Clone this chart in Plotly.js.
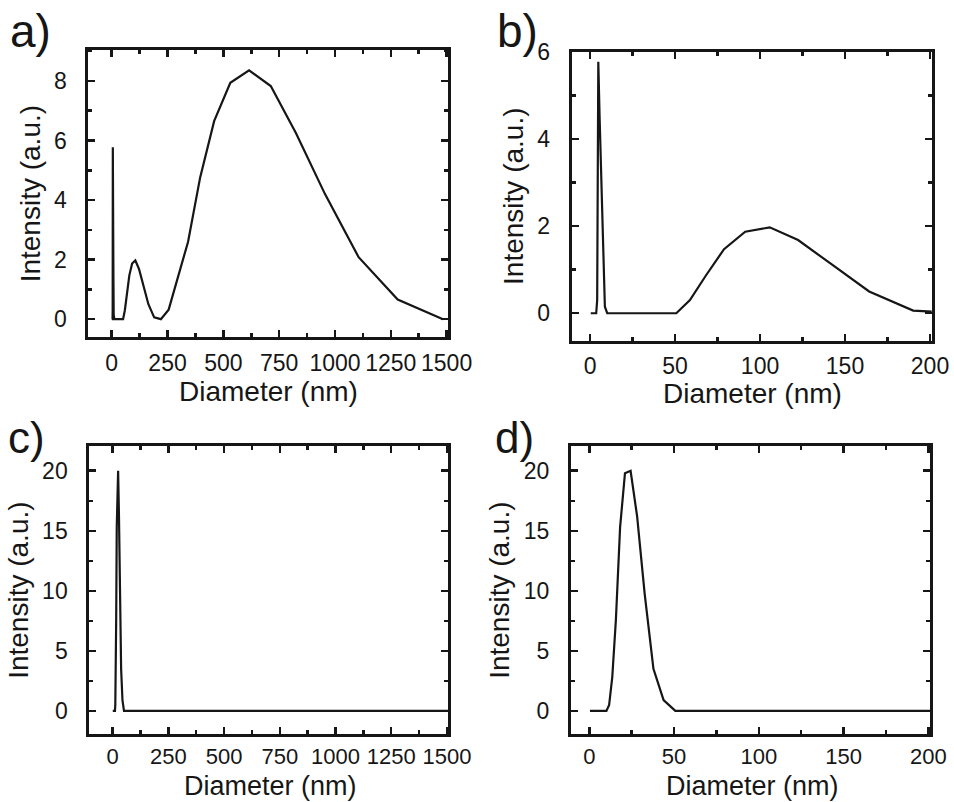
<!DOCTYPE html>
<html>
<head>
<meta charset="utf-8">
<script src="https://cdn.plot.ly/plotly-3.0.1.min.js"></script>
<style>html,body{margin:0;padding:0;background:#fff;}#chart{width:954px;height:802px;}</style>
</head>
<body>
<div id="chart"></div>
<script>
// Size bins (nm) of the DLS instrument
const diameterAB = [0.4, 0.4632, 0.5365, 0.6213, 0.7195, 0.8332, 0.9649, 1.117, 1.294, 1.499, 1.736, 2.01, 2.328, 2.696, 3.122, 3.615, 4.187, 4.849, 5.615, 6.503, 7.531, 8.721, 10.1, 11.7, 13.54, 15.69, 18.17, 21.04, 24.36, 28.21, 32.67, 37.84, 43.82, 50.75, 58.77, 68.06, 78.82, 91.28, 105.7, 122.4, 141.8, 164.2, 190.1, 220.2, 255.0, 295.3, 342.0, 396.1, 458.7, 531.2, 615.1, 712.4, 825.0, 955.4, 1106, 1281, 1484];
const intensityAB = [0, 0, 0, 0, 0, 0, 0, 0, 0, 0, 0, 0, 0, 0, 0, 0, 0.3, 5.77, 4.5, 3.1, 1.4, 0.15, 0, 0, 0, 0, 0, 0, 0, 0, 0, 0, 0, 0, 0.3, 0.86, 1.47, 1.87, 1.97, 1.68, 1.13, 0.5, 0.06, 0, 0.32, 1.36, 2.6, 4.76, 6.65, 7.94, 8.36, 7.83, 6.25, 4.2, 2.08, 0.66, 0];

const diameterCD = [0.4, 0.4632, 0.5365, 0.6213, 0.7195, 0.8332, 0.9649, 1.117, 1.294, 1.499, 1.736, 2.01, 2.328, 2.696, 3.122, 3.615, 4.187, 4.849, 5.615, 6.503, 7.531, 8.721, 10.1, 11.7, 13.54, 15.69, 18.17, 21.04, 24.36, 28.21, 32.67, 37.84, 43.82, 50.75, 58.77, 68.06, 78.82, 91.28, 105.7, 122.4, 141.8, 164.2, 190.1, 220.2, 255.0, 295.3, 342.0, 396.1, 458.7, 531.2, 615.1, 712.4, 825.0, 955.4, 1106, 1281, 1484, 1718];
const intensityCD = [0, 0, 0, 0, 0, 0, 0, 0, 0, 0, 0, 0, 0, 0, 0, 0, 0, 0, 0, 0, 0, 0, 0, 0.5, 2.8, 7.6, 15.3, 19.8, 20.0, 16.2, 9.75, 3.5, 0.9, 0, 0, 0, 0, 0, 0, 0, 0, 0, 0, 0, 0, 0, 0, 0, 0, 0, 0, 0, 0, 0, 0, 0, 0, 0];

const panelLabels = ["a)", "b)", "c)", "d)"];
const xTitle = "Diameter (nm)";
const yTitle = "Intensity (a.u.)";

const FONT = "Liberation Sans, Arial, Helvetica, sans-serif";
const INK = "#161616";
const W = 954, H = 802;
function fx(px){return px/W;}
function fy(py){return 1 - py/H;}

const lineStyle = {color: INK, width: 2.2};
const traces = [
  {x: diameterAB, y: intensityAB, xaxis: "x", yaxis: "y", mode: "lines", line: lineStyle, showlegend: false, hoverinfo: "skip"},
  {x: diameterAB, y: intensityAB, xaxis: "x2", yaxis: "y2", mode: "lines", line: lineStyle, showlegend: false, hoverinfo: "skip"},
  {x: diameterCD, y: intensityCD, xaxis: "x3", yaxis: "y3", mode: "lines", line: lineStyle, showlegend: false, hoverinfo: "skip"},
  {x: diameterCD, y: intensityCD, xaxis: "x4", yaxis: "y4", mode: "lines", line: lineStyle, showlegend: false, hoverinfo: "skip"}
];

function baseAxis(domain, range, dtick, anchor){
  return {
    domain: domain, range: range, anchor: anchor,
    tickmode: "linear", tick0: 0, dtick: dtick,
    ticks: "inside", ticklen: 7, tickwidth: 2.5, tickcolor: INK,
    minor: {dtick: dtick/2, tick0: 0, ticks: "inside", ticklen: 4, tickwidth: 2.5, tickcolor: INK, showgrid: false},
    showline: true, linecolor: INK, linewidth: 3, mirror: "ticks",
    showgrid: false, zeroline: false,
    tickfont: {family: FONT, size: 23, color: INK}
  };
}
function xax(domain, range, dtick, anchor, fontSize, standoff){
  const a = baseAxis(domain, range, dtick, anchor);
  a.tickfont = {family: FONT, size: fontSize, color: INK};
  a.ticklabelstandoff = standoff;
  return a;
}
function yax(domain, range, dtick, anchor){
  const a = baseAxis(domain, range, dtick, anchor);
  a.ticklabelstandoff = 14;
  a.title = {text: yTitle, font: {family: FONT, size: 28, color: INK}, standoff: 6};
  return a;
}

function xTitleAnn(cx, cy){
  return {text: xTitle, x: fx(cx), y: fy(cy), xref: "paper", yref: "paper", xanchor: "center", yanchor: "middle", showarrow: false, font: {family: FONT, size: 28, color: INK}};
}
function xTitleBottomAnn(cx){
  return {text: xTitle, x: fx(cx), y: 0, xref: "paper", yref: "paper", xanchor: "center", yanchor: "bottom", borderpad: 0, showarrow: false, font: {family: FONT, size: 27, color: INK}};
}
function panelAnn(i, lx, cy, size){
  return {text: panelLabels[i], x: fx(lx), y: fy(cy), xref: "paper", yref: "paper", xanchor: "left", yanchor: "middle", showarrow: false, font: {family: FONT, size: size, color: INK}};
}

const layout = {
  width: W, height: H,
  margin: {l: 0, r: 0, t: 0, b: 0},
  paper_bgcolor: "#ffffff", plot_bgcolor: "#ffffff",
  showlegend: false,
  xaxis:  xax([fx(88.3), fx(447.7)], [-105, 1505], 250, "y", 23, 3),
  yaxis:  yax([fy(337.3), fy(50)], [-0.61, 9.04], 2, "x"),
  xaxis2: xax([fx(571.7), fx(931.7)], [-10.8, 201], 50, "y2", 23, 3),
  yaxis2: yax([fy(340.7), fy(51.7)], [-0.63, 6.0], 2, "x2"),
  xaxis3: xax([fx(89.3), fx(448)], [-105, 1505], 250, "y3", 22, 0),
  yaxis3: yax([fy(734.3), fy(446)], [-1.95, 22.06], 5, "x3"),
  xaxis4: xax([fx(571), fx(930)], [-10.8, 201], 50, "y4", 22, 0),
  yaxis4: yax([fy(734.3), fy(446)], [-1.95, 22.06], 5, "x4"),
  annotations: [
    xTitleAnn(268, 391),
    xTitleAnn(752, 394),
    xTitleBottomAnn(270),
    xTitleBottomAnn(752),
    panelAnn(0, 8, 31, 46),
    panelAnn(1, 495, 31, 46),
    panelAnn(2, 6, 438, 44),
    panelAnn(3, 493, 438, 44)
  ]
};

Plotly.newPlot("chart", traces, layout, {staticPlot: true, displayModeBar: false});
</script>
</body>
</html>
